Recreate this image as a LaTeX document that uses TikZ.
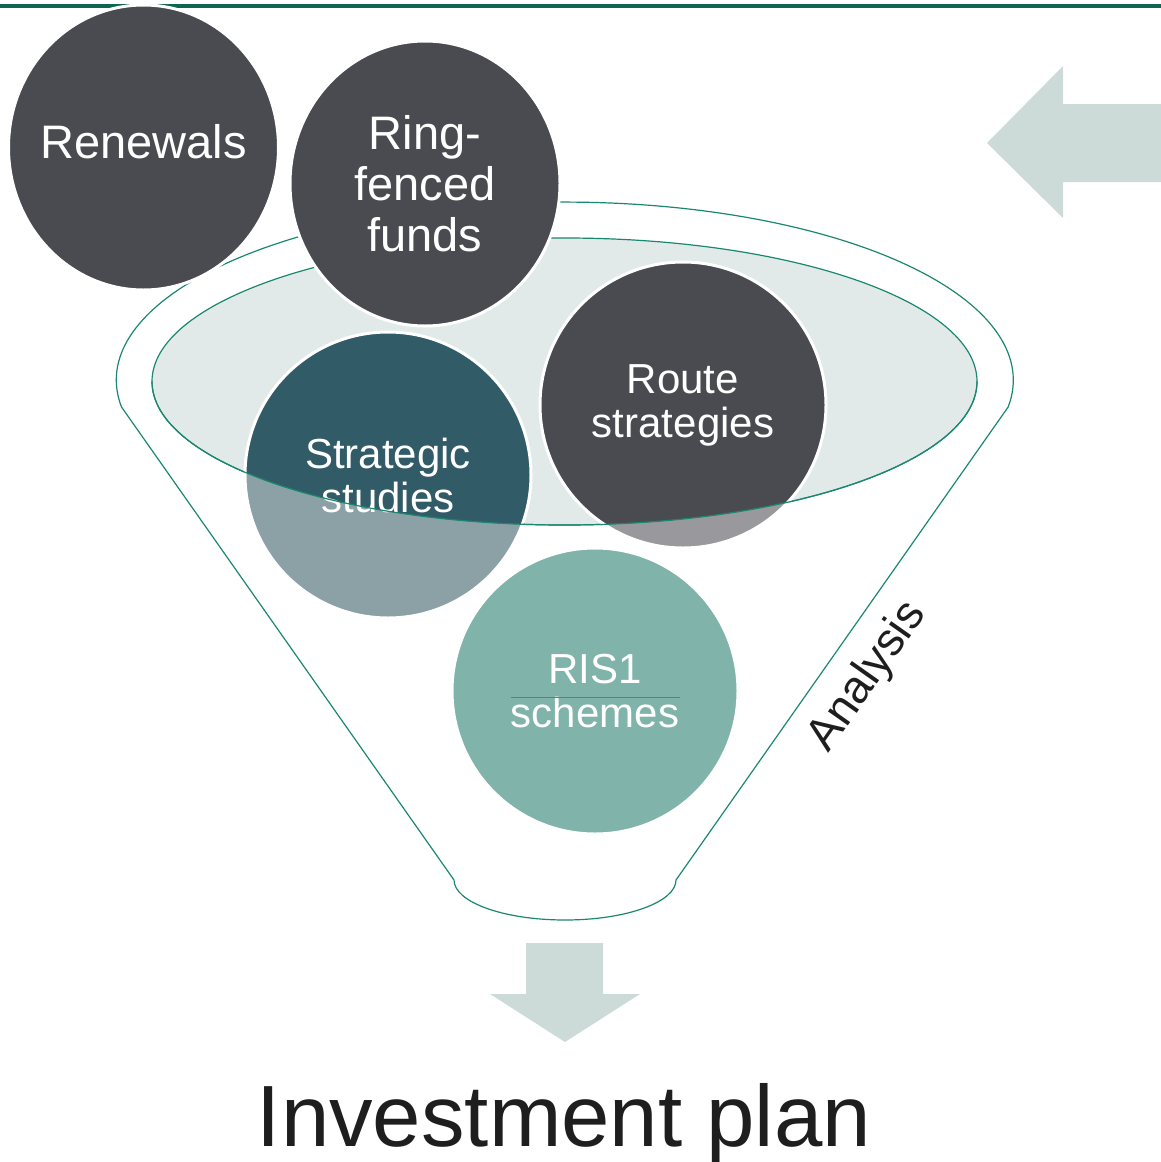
\documentclass[tikz,border=0pt]{standalone}
\usepackage{fontspec}
\setmainfont{Liberation Sans}
\usepackage{color}
\definecolor{mytopline}{RGB}{14,102,80}
\definecolor{myfunnel}{RGB}{26,135,112}
\definecolor{mymist}{RGB}{225,234,233}
\definecolor{mygrey}{RGB}{74,75,80}
\definecolor{mystratdark}{RGB}{50,91,104}
\definecolor{mystratlight}{RGB}{140,161,165}
\definecolor{myroutelight}{RGB}{153,153,157}
\definecolor{myris}{RGB}{128,179,169}
\definecolor{myarrow}{RGB}{205,219,216}
\definecolor{myink}{RGB}{30,30,30}
\usepackage{tikz}
\usetikzlibrary{calc,positioning,shapes.geometric}
\tikzstyle{bubble}=[draw=white,line width=3pt,fill=mygrey,circle,minimum size=286pt,inner sep=0pt,text=white,align=center,font=\fontsize{42}{44}\selectfont]
\tikzstyle{bigbubble}=[bubble,ellipse,minimum width=270pt,minimum height=285pt,inner xsep=-30pt,font=\fontsize{47}{51}\selectfont]
\tikzstyle{funnelline}=[draw=myfunnel,line width=1.2pt]
\tikzstyle{darkpart}=[path picture={\fill[#1] (rim) ellipse [x radius=412.5, y radius=143.5];}]

\begin{document}
\begin{tikzpicture}[x=1pt,y=-1pt]
\useasboundingbox (0, 0) rectangle (1161, 1162);
\draw[mytopline, line width=4.5pt] (0, 6) -- (1161, 6);
% funnel outline and rim
\draw[funnelline] (121.5, 407) arc [start angle=171.3, end angle=368.7, x radius=448.5, y radius=178]
  -- (676, 880) arc [start angle=0, end angle=180, x radius=111, y radius=40] -- cycle;
\coordinate (rim) at (564.5, 381.5);
\filldraw[funnelline, fill=mymist] (rim) ellipse [x radius=412.5, y radius=143.5];
% inputs
\draw (143.5, 147.5) node [bigbubble, text depth=12pt] (renew) {Renewals};
\draw (425, 183.5) node [bigbubble] (ring) {Ring-\\fenced\\funds};
\draw (388, 475) node [bubble, fill=mystratlight, darkpart=mystratdark] (strat) {Strategic\\studies};
\draw (683, 405) node [bubble, fill=myroutelight, darkpart=mygrey] (route) {Route\\strategies};
\draw (595, 691) node [bubble, fill=myris] (ris) {RIS1\\schemes};
\draw[funnelline] (rim) ++(-412.5, 0) arc [start angle=180, end angle=0, x radius=412.5, y radius=143.5];
\draw[myfunnel!70!myris, line width=0.8pt] ($(ris.center)+(-84, 6)$) -- ($(ris.center)+(85, 6)$);
% arrows
\fill[myarrow] (987, 143) -- (1063, 66) -- (1063, 104) -- (1161, 104) -- (1161, 182) -- (1063, 182) -- (1063, 218) -- cycle;
\fill[myarrow] (526, 943) -- (603, 943) -- (603, 994) -- (640, 994) -- (565, 1042) -- (490, 994) -- (526, 994) -- cycle;
\draw (868, 677) node [rotate=54.8, text=myink, font=\fontsize{46}{48}\selectfont] (analysis) {Analysis};
\draw (564, 1146) node [anchor=base, text=myink, font=\fontsize{87}{90}\selectfont] (plan) {Investment plan};
\end{tikzpicture}
\end{document}
